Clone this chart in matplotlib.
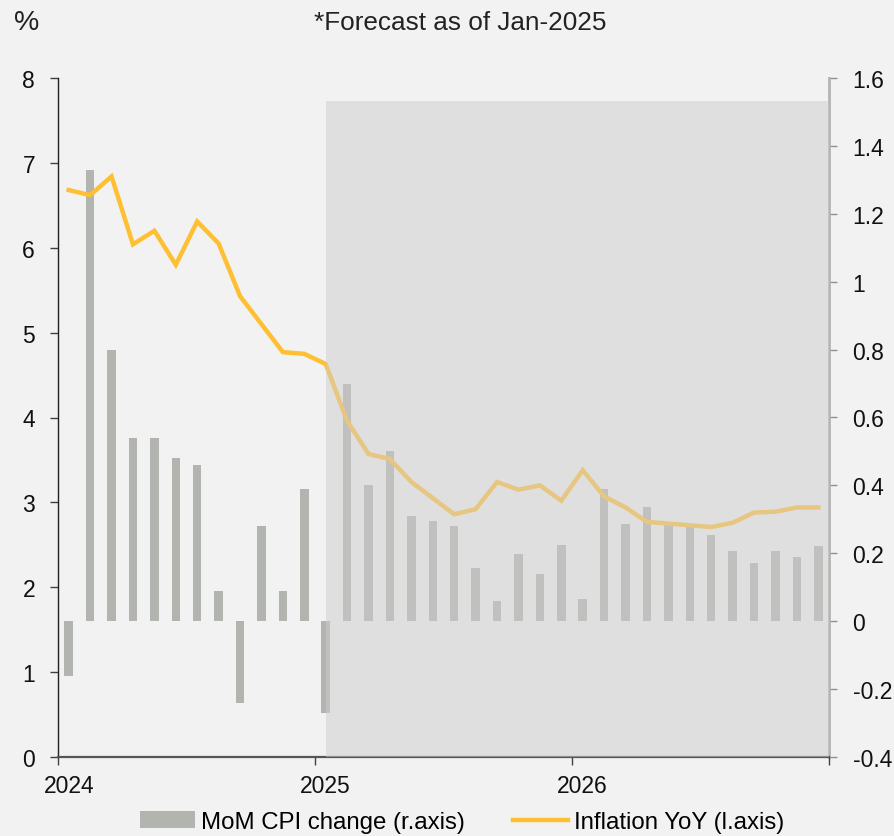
import matplotlib
matplotlib.use("Agg")
import matplotlib.pyplot as plt
from matplotlib.patches import Rectangle, Patch
from matplotlib.lines import Line2D
import numpy as np

plt.rcParams['font.family'] = ['Liberation Sans', 'DejaVu Sans']

# Monthly data Jan-2024 .. Dec-2026
inflation_yoy = [6.68, 6.62, 6.84, 6.04, 6.20, 5.80, 6.31, 6.05, 5.43, 5.10, 4.77, 4.75,
                 4.63, 3.96, 3.57, 3.51, 3.24, 3.05, 2.86, 2.92, 3.24, 3.15, 3.20, 3.02,
                 3.38, 3.07, 2.94, 2.77, 2.75, 2.73, 2.71, 2.76, 2.88, 2.89, 2.94, 2.94]
mom_cpi = [-0.16, 1.33, 0.80, 0.54, 0.54, 0.48, 0.46, 0.09, -0.24, 0.28, 0.09, 0.39,
           -0.27, 0.70, 0.40, 0.50, 0.31, 0.295, 0.28, 0.157, 0.059, 0.198, 0.138, 0.224,
           0.064, 0.39, 0.286, 0.335, 0.29, 0.28, 0.254, 0.206, 0.171, 0.206, 0.189, 0.221]
year_labels = ["2024", "2025", "2026"]
forecast_start = 12  # Jan-2025 (month index)
forecast_top = 7.73

bg = "#F2F2F2"
bar_color = "#B2B4B0"
line_color = "#FFBF33"

fig = plt.figure(figsize=(8.94, 8.37), dpi=100, facecolor=bg)
ax = fig.add_axes([58/894, 1-758/837, (829-58)/894, (758-79)/837])
ax2 = ax.twinx()
ax.set_zorder(ax2.get_zorder() + 1)
ax.patch.set_visible(False)
ax2.patch.set_facecolor(bg)

n = len(inflation_yoy)
x = np.arange(n) + 0.5

ax2.bar(x, mom_cpi, width=0.4, color=bar_color, zorder=2)
ax.plot(x, inflation_yoy, color=line_color, lw=3.2, zorder=3, solid_joinstyle='miter')

ax.add_patch(Rectangle((forecast_start + 0.5, 0), n - forecast_start - 0.5, forecast_top,
                       facecolor="#CECECE", alpha=0.5, edgecolor='none', zorder=5))

ax.set_xlim(0, n)
ax.set_ylim(0, 8)
ax2.set_ylim(-0.4, 1.6)
ax.set_yticks(range(0, 9))
rticks = np.round(np.arange(-0.4, 1.61, 0.2), 1)
ax2.set_yticks(rticks)
ax2.set_yticklabels([f"{v:g}" for v in rticks])

# year ticks at year boundaries, labels centred on January
ax.set_xticks([0, 12, 24, 36])
ax.set_xticklabels([])
ax.set_xticks([0.5, 12.5, 24.5], minor=True)
ax.set_xticklabels(year_labels, minor=True)
ax.tick_params(axis='x', which='minor', length=0, labelsize=16.5, pad=12, labelcolor="#111111")

for a in (ax, ax2):
    a.spines['top'].set_visible(False)
ax.spines['right'].set_visible(False)
ax2.spines['left'].set_visible(False)
ax2.spines['bottom'].set_visible(False)
ax.spines['left'].set_color("#202020")
ax.spines['left'].set_linewidth(1.0)
ax.spines['bottom'].set_color("#555555")
ax.spines['bottom'].set_linewidth(1.6)
ax2.spines['right'].set_color("#B4B4B4")
ax2.spines['right'].set_linewidth(2.0)

ax.tick_params(axis='y', labelsize=16.5, length=6, width=1, color="#404040", pad=10.5, labelcolor="#111111")
ax.tick_params(axis='x', which='major', length=6, width=1, color="#404040")
ax2.tick_params(axis='y', labelsize=16.5, length=6, width=1, color="#909090", pad=11, labelcolor="#111111")

fig.text(14/894, 1-23/837, "%", fontsize=20.5, va='center', ha='left', color="#222222")
fig.text(460/894, 1-23/837, "*Forecast as of Jan-2025", fontsize=18.8, va='center', ha='center', color="#222222")

handles = [Patch(facecolor=bar_color, edgecolor='none'),
           Line2D([0], [0], color=line_color, lw=3.2)]
fig.legend(handles, ["MoM CPI change (r.axis)", "Inflation YoY (l.axis)"],
           loc='center', bbox_to_anchor=(462/894, 1-823/837), ncol=2, frameon=False,
           fontsize=17.3, handlelength=2.3, handletextpad=0.25, columnspacing=2.0,
           borderaxespad=0, borderpad=0)

fig.savefig("out.png", dpi=100, facecolor=bg)
